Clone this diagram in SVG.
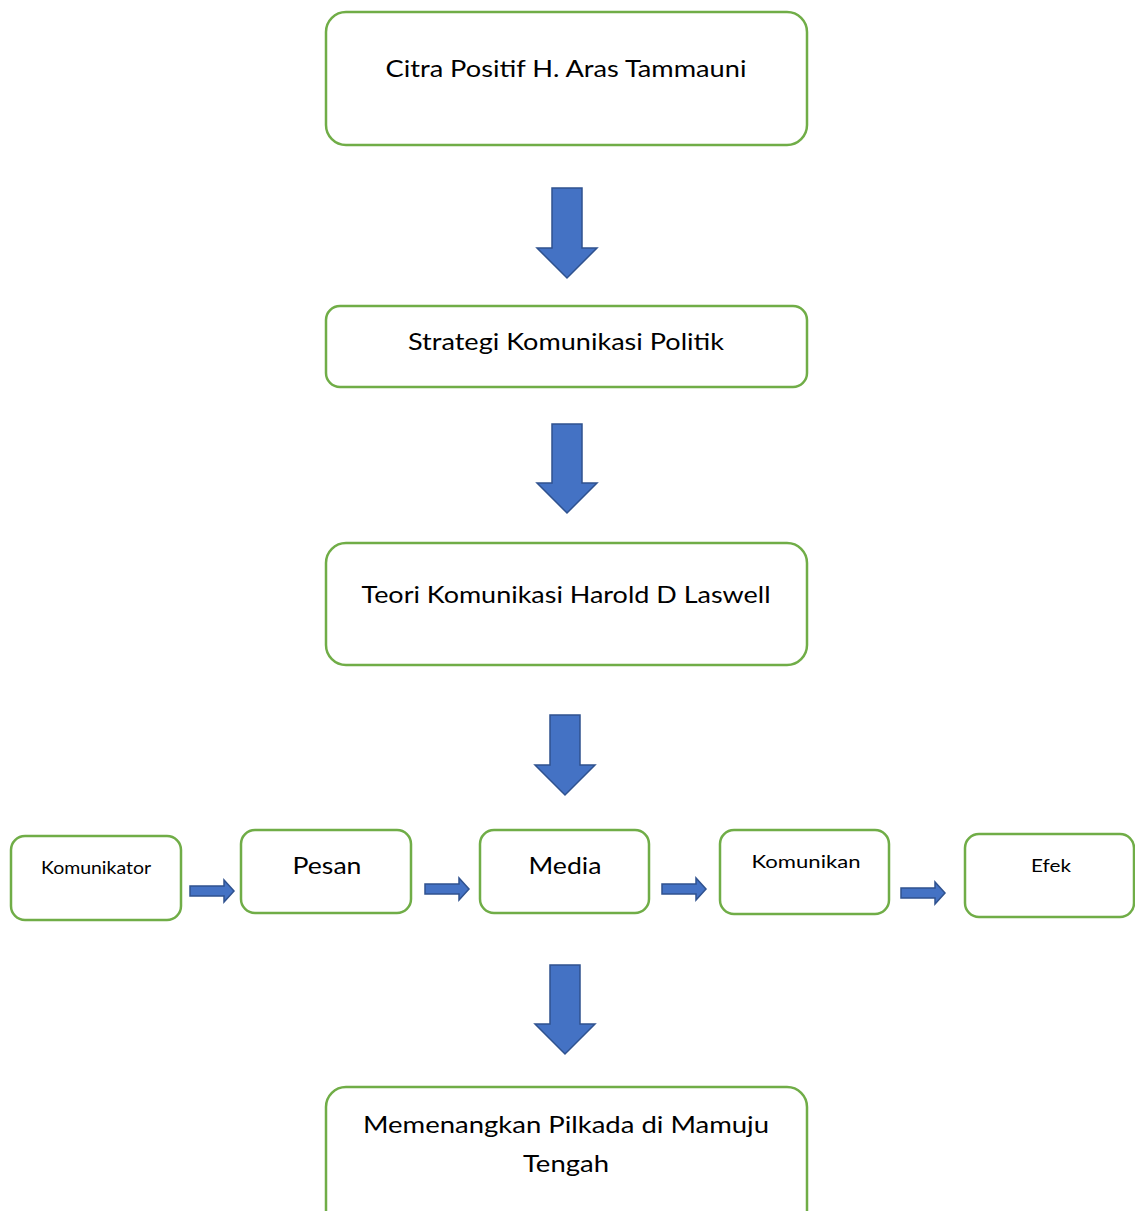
<svg xmlns="http://www.w3.org/2000/svg" width="1135" height="1211" viewBox="0 0 1135 1211">
<style>
.box{fill:#fff;stroke:#70AD47;stroke-width:2.5}
.arr{fill:#4472C4;stroke:#2F528F;stroke-width:1.5;stroke-linejoin:miter}
text{font-family:Lato,"Liberation Sans",sans-serif;fill:#000;text-anchor:middle}
.l{font-size:24px}
.s{font-size:18px}
</style>
<rect width="1135" height="1211" fill="#fff"/>
<g id="n1"><rect class="box" x="326" y="12" width="481" height="133" rx="20"/><text class="l" x="566" y="77" textLength="361" lengthAdjust="spacingAndGlyphs">Citra Positif H. Aras Tammauni</text></g>
<g id="n2"><rect class="box" x="326" y="306" width="481" height="81" rx="14"/><text class="l" x="566" y="350" textLength="316" lengthAdjust="spacingAndGlyphs">Strategi Komunikasi Politik</text></g>
<g id="n3"><rect class="box" x="326" y="543" width="481" height="122" rx="20"/><text class="l" x="566" y="603" textLength="409" lengthAdjust="spacingAndGlyphs">Teori Komunikasi Harold D Laswell</text></g>
<g id="n4"><rect class="box" x="11" y="836" width="170" height="84" rx="14"/><text class="s" x="96" y="874" textLength="110" lengthAdjust="spacingAndGlyphs">Komunikator</text></g>
<g id="n5"><rect class="box" x="241" y="830" width="170" height="83" rx="14"/><text class="l" x="327" y="874" textLength="69" lengthAdjust="spacingAndGlyphs">Pesan</text></g>
<g id="n6"><rect class="box" x="480" y="830" width="169" height="83" rx="14"/><text class="l" x="565" y="874" textLength="73" lengthAdjust="spacingAndGlyphs">Media</text></g>
<g id="n7"><rect class="box" x="720" y="830" width="169" height="84" rx="14"/><text class="s" x="806" y="868" textLength="109" lengthAdjust="spacingAndGlyphs">Komunikan</text></g>
<g id="n8"><rect class="box" x="965" y="834" width="169" height="83" rx="14"/><text class="s" x="1051" y="872" textLength="40" lengthAdjust="spacingAndGlyphs">Efek</text></g>
<g id="n9"><rect class="box" x="326" y="1087" width="481" height="150" rx="20"/><text class="l" x="566" y="1133" textLength="406" lengthAdjust="spacingAndGlyphs">Memenangkan Pilkada di Mamuju</text><text class="l" x="566" y="1172" textLength="86" lengthAdjust="spacingAndGlyphs">Tengah</text></g>
<g id="connectors">
<polygon class="arr" points="552,188 582,188 582,248 597,248 567,278 537,248 552,248"/>
<polygon class="arr" points="552,424 582,424 582,483 597,483 567,513 537,483 552,483"/>
<polygon class="arr" points="550,715 580,715 580,765 595,765 565,795 535,765 550,765"/>
<polygon class="arr" points="550,965 580,965 580,1024 595,1024 565,1054 535,1024 550,1024"/>
<polygon class="arr" points="190,886 224,886 224,880 234,891 224,902 224,896 190,896"/>
<polygon class="arr" points="425,884 459,884 459,878 469,889 459,900 459,894 425,894"/>
<polygon class="arr" points="662,884 696,884 696,878 706,889 696,900 696,894 662,894"/>
<polygon class="arr" points="901,888 935,888 935,882 945,893 935,904 935,898 901,898"/>
</g>
</svg>
